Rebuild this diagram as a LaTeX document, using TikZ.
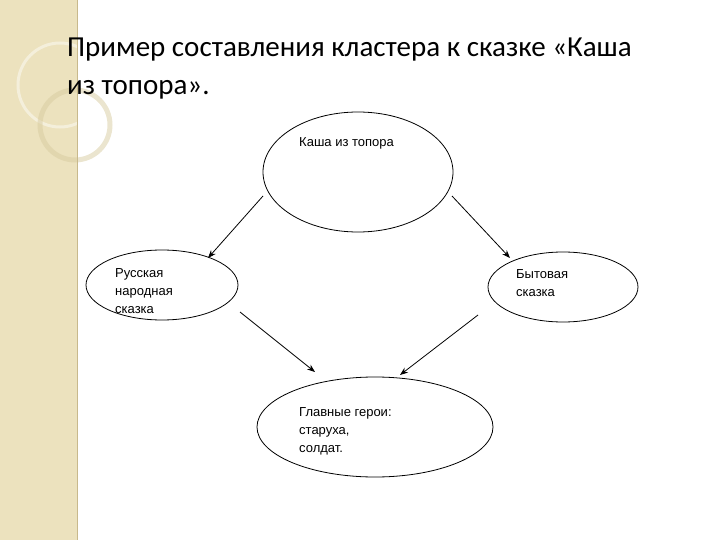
\documentclass[tikz,border=0pt]{standalone}
\usepackage{fontspec}
\setmainfont{Liberation Sans}
\newfontfamily\titlefont{Carlito}
\usetikzlibrary{arrows.meta}
\definecolor{barbg}{RGB}{236,226,190}
\definecolor{ringc}{RGB}{215,203,160}
\definecolor{edgec}{RGB}{200,185,140}
\begin{document}
\begin{tikzpicture}[x=1pt,y=-1pt,
  lbl/.style={anchor=north west,font=\fontsize{13}{18}\selectfont,align=left,inner sep=0},
  arr/.style={draw,-{Stealth[length=8pt,width=6pt]},line width=0.8pt}]
\useasboundingbox (0,0) rectangle (720,540);
\fill[barbg] (0,0) rectangle (77,540);
\draw[white,opacity=0.45,line width=3pt] (60,85) circle (42);
\draw[ringc,opacity=0.5,line width=5pt] (75,125) circle (35);
\draw[edgec,thin] (77,0) -- (77,540);
\node[anchor=west,inner sep=0,font=\titlefont\fontsize{29}{34}\selectfont] (t1) at (67,50) {Пример составления кластера к сказке «Каша};
\node[anchor=west,inner sep=0,font=\titlefont\fontsize{29}{34}\selectfont] (t2) at (67,90) {из топора».};
\draw[line width=0.8pt] (358,172) ellipse (95 and 60);
\draw[line width=0.8pt] (162,285) ellipse (76 and 35);
\draw[line width=0.8pt] (563,287) ellipse (75 and 35);
\draw[line width=0.8pt] (375,427) ellipse (118 and 50);
\node[lbl] (a) at (299,137) {Каша из топора};
\node[lbl] (b) at (115,268) {Русская\\народная\\сказка};
\node[lbl] (c) at (516,269) {Бытовая\\сказка};
\node[lbl] (d) at (299,407) {Главные герои:\\старуха,\\солдат.};
\coordinate (a1) at (263,196); \coordinate (a2) at (208,258);
\coordinate (b1) at (452,196); \coordinate (b2) at (510,258);
\coordinate (c1) at (240,312); \coordinate (c2) at (315,372);
\coordinate (d1) at (478,315); \coordinate (d2) at (400,375);
\draw[arr] (a1) -- (a2);
\draw[arr] (b1) -- (b2);
\draw[arr] (c1) -- (c2);
\draw[arr] (d1) -- (d2);
\end{tikzpicture}
\end{document}
